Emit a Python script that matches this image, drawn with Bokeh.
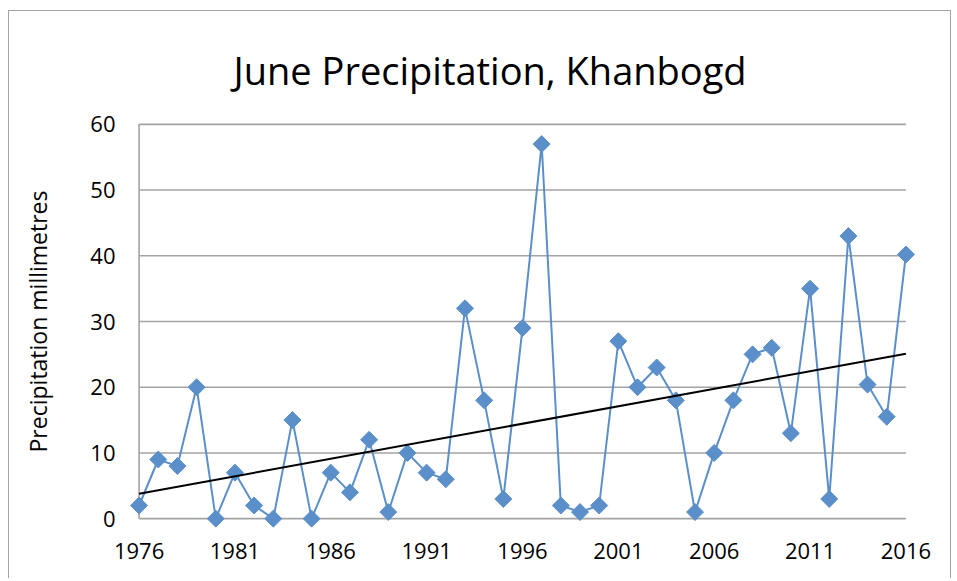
import numpy as np
from bokeh.plotting import figure
from bokeh.models import Range1d, FixedTicker
from bokeh.embed import file_html
from bokeh.resources import INLINE

# ---- data ----
years = list(range(1976, 2017))
precip = [2, 9, 8, 20, 0, 7, 2, 0, 15, 0,
          7, 4, 12, 1, 10, 7, 6, 32, 18, 3,
          29, 57, 2, 1, 2, 27, 20, 23, 18, 1,
          10, 18, 25, 26, 13, 35, 3, 43, 20.4, 15.5,
          40.2]
x_ticks = [1976, 1981, 1986, 1991, 1996, 2001, 2006, 2011, 2016]
y_ticks = [0, 10, 20, 30, 40, 50, 60]
title_text = "June Precipitation, Khanbogd"
y_label = "Precipitation millimetres"

# linear trend computed from the series
slope, intercept = np.polyfit(years, precip, 1)
trend_x = [years[0], years[-1]]
trend_y = [slope * x + intercept for x in trend_x]

FONT = "Open Sans"
BLUE = "#5B8FC9"
GRID = "#A3A3A3"

p = figure(width=943, height=568, output_backend="svg", toolbar_location=None,
           x_range=Range1d(years[0] - 0.5, years[-1] + 0.5),
           y_range=Range1d(y_ticks[0] - 1.5, y_ticks[-1] + 1.5),
           min_border_left=120, min_border_right=37,
           min_border_top=103, min_border_bottom=51)
p.styles = {"margin-left": "8px", "margin-top": "10px",
            "border-top": "1px solid #A3A3A3",
            "border-left": "1px solid #A3A3A3",
            "border-right": "1px solid #A3A3A3"}
p.outline_line_color = None
p.xgrid.visible = False
p.ygrid.visible = False

# gridlines and y axis line
p.segment(x0=[years[0]] * len(y_ticks), x1=[years[-1]] * len(y_ticks),
          y0=y_ticks, y1=y_ticks, line_color=GRID, line_width=1.6)
p.segment(x0=[years[0]], x1=[years[0]], y0=[y_ticks[0]], y1=[y_ticks[-1]],
          line_color=GRID, line_width=1.6)

# series
p.line(years, precip, line_color=BLUE, line_width=2)
p.scatter(years, precip, marker="square", angle=np.pi / 4, size=12,
          fill_color=BLUE, line_color=BLUE)
p.line(trend_x, trend_y, line_color="black", line_width=2)

# axes
for ax in (p.xaxis[0], p.yaxis[0]):
    ax.axis_line_color = None
    ax.major_tick_line_color = None
    ax.minor_tick_line_color = None
    ax.major_tick_out = 0
    ax.major_tick_in = 0
    ax.major_label_text_font = FONT
    ax.major_label_text_font_size = "22px"
    ax.major_label_text_color = "black"

p.xaxis.ticker = FixedTicker(ticks=x_ticks)
p.yaxis.ticker = FixedTicker(ticks=y_ticks)
p.xaxis.major_label_standoff = 14
p.yaxis.major_label_standoff = 14

p.yaxis.axis_label = y_label
p.yaxis.axis_label_text_font = FONT
p.yaxis.axis_label_text_font_size = "23px"
p.yaxis.axis_label_text_font_style = "normal"
p.yaxis.axis_label_text_color = "black"
p.yaxis.axis_label_standoff = 33

p.title.text = title_text
p.title.text_font = FONT
p.title.text_font_size = "38px"
p.title.text_font_style = "normal"
p.title.text_color = "black"
p.title.align = "left"
p.title.offset = 104
p.title.standoff = 38

open("out.html", "w").write(file_html(p, INLINE))
